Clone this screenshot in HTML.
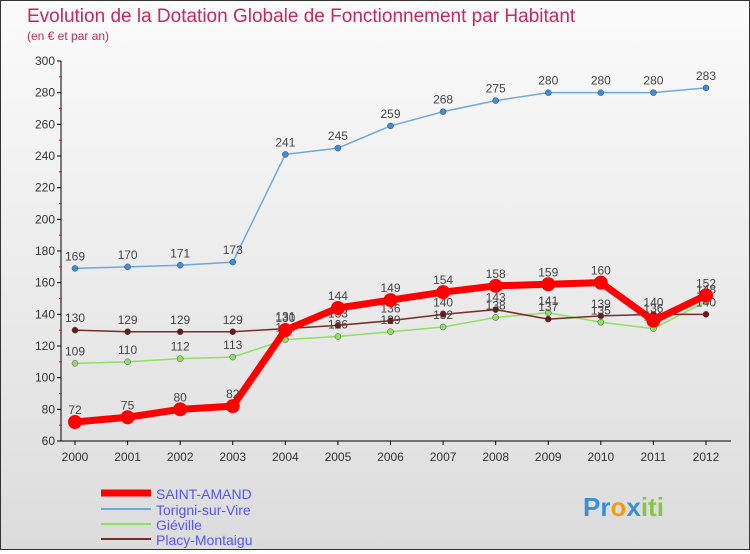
<!DOCTYPE html>
<html><head><meta charset="utf-8"><style>
body{margin:0;width:750px;height:550px;overflow:hidden;font-family:"Liberation Sans",sans-serif}
#wrap{position:relative;width:748px;height:548px;border:1px solid #333;background:linear-gradient(#fbfbfb,#dcdcdc)}
</style></head><body>
<div id="wrap">
<svg id="c" width="748" height="548" xmlns="http://www.w3.org/2000/svg">
<text x="26" y="21" font-size="19" fill="#c8285a">Evolution de la Dotation Globale de Fonctionnement par Habitant</text>
<text x="26" y="39" font-size="12" fill="#c8285a">(en € et par an)</text>
<g id="axes"></g><g id="series"></g>
<g>
<line x1="100" y1="492" x2="150" y2="492" stroke="#f00" stroke-width="7"/>
<text x="155" y="498" font-size="14" fill="#55f">SAINT-AMAND</text>
<line x1="100" y1="508" x2="150" y2="508" stroke="#6fa8dc" stroke-width="2"/>
<text x="155" y="514" font-size="14" fill="#55f">Torigni-sur-Vire</text>
<line x1="100" y1="523" x2="150" y2="523" stroke="#8fe060" stroke-width="2"/>
<text x="155" y="529" font-size="14" fill="#55f">Giéville</text>
<line x1="100" y1="538" x2="150" y2="538" stroke="#7a2a2a" stroke-width="2"/>
<text x="155" y="544" font-size="14" fill="#55f">Placy-Montaigu</text>
</g>
<text x="582" y="515" font-size="26" font-weight="bold"><tspan fill="#3a8fd8">Pr</tspan><tspan fill="#f39c12">o</tspan><tspan fill="#3a8fd8">x</tspan><tspan fill="#8bc34a">iti</tspan></text>
</svg></div>
<script>
const years=[2000,2001,2002,2003,2004,2005,2006,2007,2008,2009,2010,2011,2012];
const yTicks=[60,80,100,120,140,160,180,200,220,240,260,280,300];
const saintAmand=[72,75,80,82,130,144,149,154,158,159,160,136,152];
const torigni=[169,170,171,173,241,245,259,268,275,280,280,280,283];
const gieville=[109,110,112,113,124,126,129,132,138,141,135,131,148];
const placy=[130,129,129,129,131,133,136,140,143,137,139,140,140];
const NS="http://www.w3.org/2000/svg";
const xs=i=>74+i*(631/12);
const ys=v=>440-(v-60)*(380/240);
function mk(t,a,p){const e=document.createElementNS(NS,t);for(const k in a)e.setAttribute(k,a[k]);p.appendChild(e);return e;}
const ax=document.getElementById('axes'),se=document.getElementById('series');
let l=mk('line',{x1:60,y1:ys(300),x2:60,y2:ys(60),stroke:'#000'},ax);


l=mk('line',{x1:60,y1:ys(60),x2:730,y2:ys(60),stroke:'#000'},ax);


yTicks.forEach(v=>{mk('line',{x1:56,y1:ys(v),x2:60,y2:ys(v),stroke:'#000'},ax);
const t=mk('text',{x:54,y:ys(v)+4,'font-size':12,'text-anchor':'end',fill:'#333'},ax);t.textContent=v;


if(v<300)mk('line',{x1:58,y1:ys(v+10),x2:61,y2:ys(v+10),stroke:'#f00'},ax);});
years.forEach((y,i)=>{mk('line',{x1:xs(i),y1:ys(60),x2:xs(i),y2:ys(60)+4,stroke:'#000'},ax);
const t=mk('text',{x:xs(i),y:ys(60)+20,'font-size':12,'text-anchor':'middle',fill:'#333'},ax);t.textContent=y;

});
function series(d,col,w,r,name,dot){
const p=mk('polyline',{points:d.map((v,i)=>xs(i)+','+ys(v)).join(' '),fill:'none',stroke:col,'stroke-width':w,'stroke-linejoin':'round'},se);


d.forEach((v,i)=>{const c=mk('circle',{cx:xs(i),cy:ys(v),r:r,fill:dot,stroke:r<5?'#444':'none','stroke-width':0.5},se);


const t=mk('text',{x:xs(i),y:ys(v)-8,'font-size':12,'text-anchor':'middle',fill:'#444'},se);t.textContent=v;

});}
series(torigni,'#6fa8dc',1.5,3,'torigni','#3a8fd8');
series(gieville,'#8fe060',1.5,3,'gieville','#8fe060');
series(placy,'#7a2a2a',1.5,3,'placy','#6a1a1a');
series(saintAmand,'#f00',7,7,'saint-amand','#f00');
</script>
</body></html>
